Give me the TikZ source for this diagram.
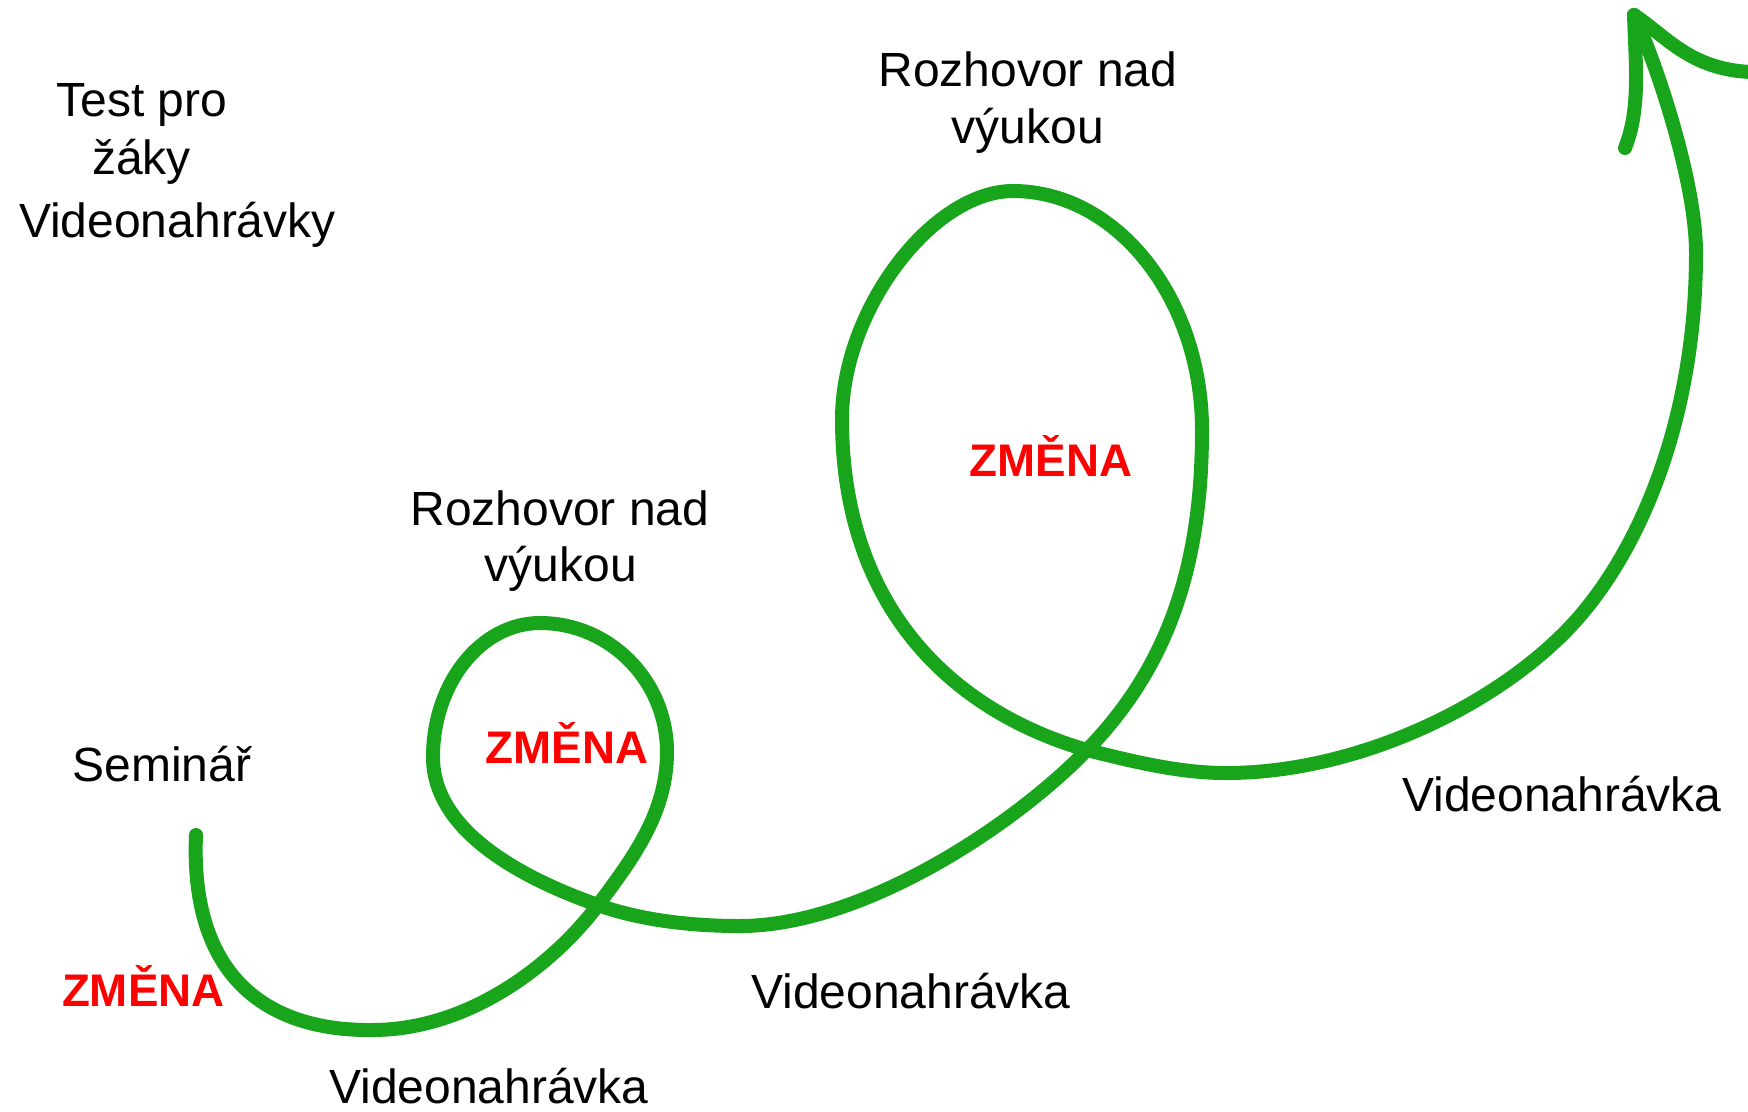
\documentclass[tikz,border=0pt]{standalone}
\usepackage{fontspec}
\setmainfont{Liberation Sans}
\definecolor{penGreen}{RGB}{24,165,28}
\definecolor{zRed}{RGB}{255,0,0}
\begin{document}
\begin{tikzpicture}[x=0.01cm,y=-0.01cm,
  stroke/.style={draw=penGreen, line width=0.14cm, line cap=round, line join=round},
  lbl/.style={font=\fontsize{13.65}{15}\selectfont, anchor=base, inner sep=0pt},
  chg/.style={font=\fontsize{13}{15}\selectfont\bfseries, text=zRed, anchor=base, inner sep=0pt}]
\fill[white] (0,0) rectangle (1748,1111);
\useasboundingbox (0,0) rectangle (1748,1111);

% key points of the hand-drawn curve
\coordinate (S)  at (196,835);
\coordinate (B)  at (372,1030);
\coordinate (X1) at (598,905);
\coordinate (R)  at (667,752);
\coordinate (T)  at (540,623);
\coordinate (L)  at (433,757);
\coordinate (M)  at (740,926);
\coordinate (X2) at (1087,750);
\coordinate (RR) at (1202,430);
\coordinate (TT) at (1013,191);
\coordinate (LL) at (842,419);
\coordinate (Q)  at (1226,773);
\coordinate (P)  at (1570,627);
\coordinate (RS) at (1696,253);
\coordinate (tip) at (1634,15);
\coordinate (barbL) at (1625,148);
\coordinate (barbR) at (1752,72);

\draw[stroke] (S)
  .. controls (190,975) and (265,1031) .. (B)
  .. controls (472,1030) and (556,961) .. (X1)
  .. controls (634,857) and (667,812) .. (R)
  .. controls (667,681) and (610,623) .. (T)
  .. controls (481,623) and (433,683) .. (L)
  .. controls (433,832) and (524,879) .. (X1)
  .. controls (640,920) and (690,926) .. (M)
  .. controls (860,926) and (1010,829) .. (X2)
  .. controls (1171,664) and (1202,560) .. (RR)
  .. controls (1202,299) and (1117,191) .. (TT)
  .. controls (933,191) and (842,309) .. (LL)
  .. controls (842,610) and (955,712) .. (X2)
  .. controls (1135,762) and (1180,773) .. (Q)
  .. controls (1356,773) and (1494,707) .. (P)
  .. controls (1639,554) and (1696,420) .. (RS)
  .. controls (1696,180) and (1655,60) .. (tip);
% arrowhead barbs
\draw[stroke] (tip) .. controls (1636,70) and (1640,110) .. (barbL);
\draw[stroke] (tip) .. controls (1665,35) and (1690,70) .. (barbR);

% labels
\node[lbl] (test1) at (142,116.7) {Test pro};
\node[lbl] (test2) at (141.5,174.7) {žáky};
\node[lbl] (video0) at (177.4,237) {Videonahrávky};

\node[lbl] (rozB1) at (1028,86.7) {Rozhovor nad};
\node[lbl] (rozB2) at (1028,143.7) {výukou};

\node[lbl] (rozA1) at (560,525) {Rozhovor nad};
\node[lbl] (rozA2) at (561,581) {výukou};

\node[lbl] (seminar) at (162,781.7) {Seminář};

\node[chg] (zmenaC) at (1051,476.8) {ZMĚNA};
\node[chg] (zmenaB) at (567,763) {ZMĚNA};
\node[chg] (zmenaA) at (143.3,1006.7) {ZMĚNA};

\node[lbl] (video1) at (489,1103) {Videonahrávka};
\node[lbl] (video2) at (911,1008) {Videonahrávka};
\node[lbl] (video3) at (1562,811.7) {Videonahrávka};
\end{tikzpicture}
\end{document}
